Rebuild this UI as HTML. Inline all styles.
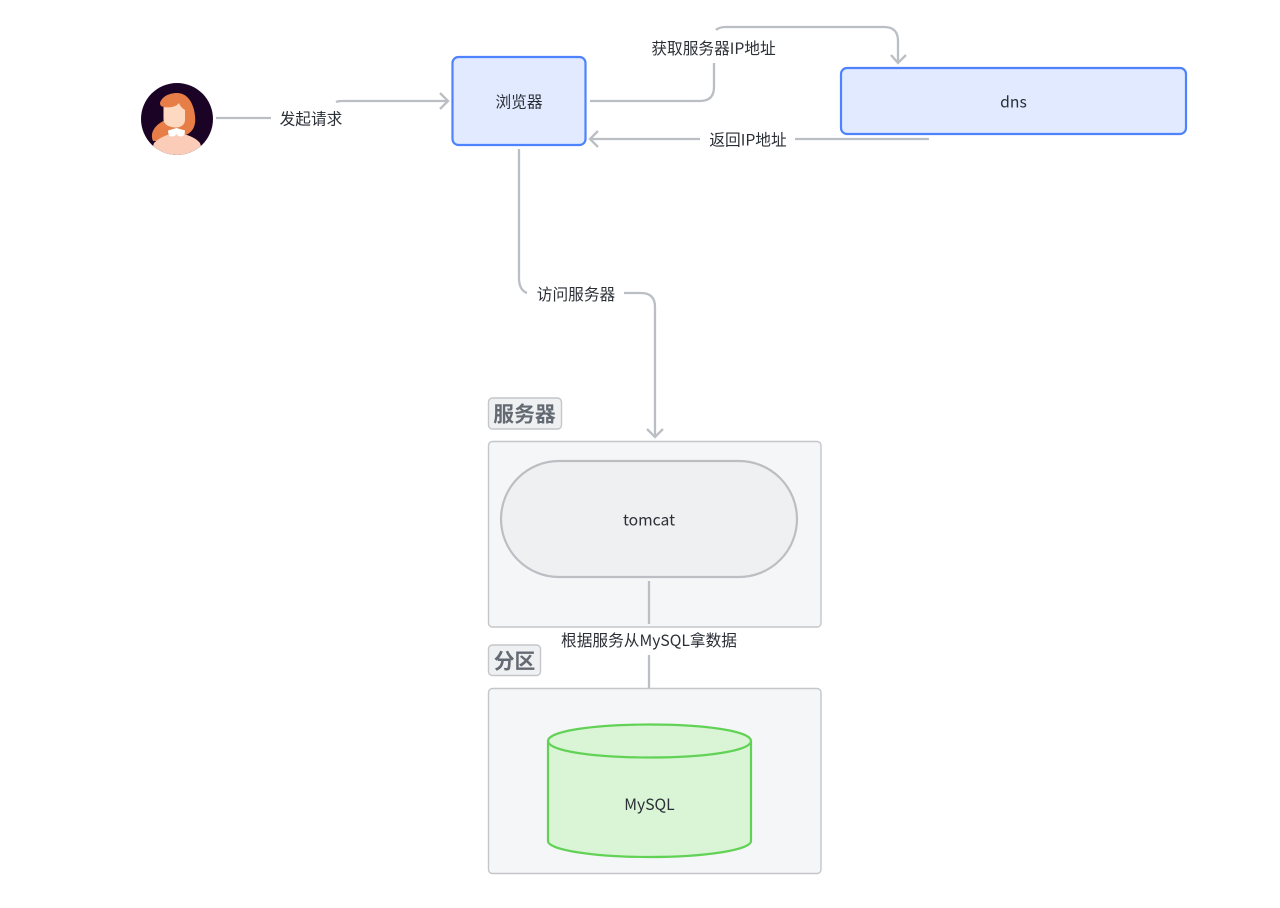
<!DOCTYPE html>
<html>
<head>
<meta charset="utf-8">
<style>
html,body{margin:0;padding:0;background:#fff;width:1280px;height:908px;overflow:hidden}
svg{display:block;filter:blur(0.35px)}
text{font-family:"Noto Sans CJK SC","Liberation Sans",sans-serif;font-size:15.7px;fill:#2b2f36;text-anchor:middle}
.t{font-size:20.8px;font-weight:700;fill:#646a73}
.c{fill:none;stroke:#bbbfc4;stroke-width:2.3}
</style>
</head>
<body>
<svg width="1280" height="908" viewBox="0 0 1280 908" xmlns="http://www.w3.org/2000/svg">
<!-- group boxes -->
<rect x="488.500" y="441.500" width="332.500" height="185.500" rx="4" fill="#f5f6f7" stroke="#c4c6ca" stroke-width="1.400"/>
<rect x="488.500" y="688.500" width="332.500" height="185" rx="4" fill="#f5f6f7" stroke="#c4c6ca" stroke-width="1.400"/>
<rect x="488.500" y="398" width="73" height="31" rx="4" fill="#eff0f1" stroke="#c4c6ca" stroke-width="1.400"/>
<text class="t" x="524.500" y="421.500">服务器</text>
<rect x="488.500" y="645" width="52" height="30.500" rx="4" fill="#eff0f1" stroke="#c4c6ca" stroke-width="1.400"/>
<text class="t" x="514.500" y="668.500">分区</text>

<!-- connectors -->
<path class="c" d="M216 118H271"/>
<path class="c" d="M336 102Q338 101 342 101H447"/>
<path class="c" d="M440 93L448 101L440 109"/>
<path class="c" d="M590 101H700Q714 101 714 87V63"/>
<path class="c" d="M716 30Q719 27 726 27H884Q898 27 898 41V62"/>
<path class="c" d="M891 55L898 63L906 55"/>
<path class="c" d="M929 139H795"/>
<path class="c" d="M700 139H591"/>
<path class="c" d="M598 131L590 139L598 147"/>
<path class="c" d="M519 149V278Q519 290 527 293"/>
<path class="c" d="M624 293H641Q655 293 655 307V437"/>
<path class="c" d="M647 429L655 437L663 429"/>
<path class="c" d="M649 581V624"/>
<path class="c" d="M649 655V688"/>

<!-- avatar -->
<circle cx="177" cy="119" r="36" fill="#1b0325"/>
<clipPath id="av"><circle cx="177" cy="119" r="36"/></clipPath>
<g clip-path="url(#av)">
<path d="M160 103C162 96 170 93 177 93C188 93 194 104 195 116C196 124 194 130 188 134L170 141L153 141C150 134 153 126 165 120L165 107C162 107 160 106 160 103Z" fill="#e77e47"/>
<path d="M154 143C160 137 168 134 177 133C186 134 195 137 200 143L204 156H150Z" fill="#fbcdb8"/>
<path d="M163.500 107C170 108 176 107 179 103C180 106 182 108 185 110V120C185 125 180 128 175 127.500C168 127 163.500 124 163.500 119Z" fill="#fdd9c2"/>
<path d="M168 130.500L176.500 128L176.500 134C174 137.500 170 137 168.500 134.500Z" fill="#fff"/>
<path d="M176.500 128L185 130.500L184.500 134.500C182.500 137 179 137.500 176.500 134Z" fill="#fff"/>
</g>

<!-- nodes -->
<rect x="452.500" y="57" width="133" height="88" rx="6" fill="#e1eaff" stroke="#4e83fd" stroke-width="2.200"/>
<text x="519" y="107.500">浏览器</text>
<rect x="841" y="68" width="345" height="66" rx="6" fill="#e1eaff" stroke="#4e83fd" stroke-width="2.200"/>
<text x="1013.500" y="107.700">dns</text>
<rect x="501" y="461" width="296" height="116" rx="58" fill="#eff0f1" stroke="#bbbfc4" stroke-width="2.200"/>
<text x="649" y="525.500">tomcat</text>
<path d="M548 741C548 731 594 724.500 649.500 724.500C705 724.500 751 731 751 741V841C751 850 705 857 649.500 857C594 857 548 850 548 841Z" fill="#d9f5d6" stroke="#62d256" stroke-width="2.200"/>
<path d="M548 741C548 751 594 757.500 649.500 757.500C705 757.500 751 751 751 741" fill="none" stroke="#62d256" stroke-width="2.200"/>
<text x="649.500" y="810">MySQL</text>

<!-- labels -->
<text x="311" y="124.500">发起请求</text>
<text x="713.500" y="54">获取服务器IP地址</text>
<text x="748" y="145.500">返回IP地址</text>
<text x="576" y="300">访问服务器</text>
<text x="649" y="646">根据服务从MySQL拿数据</text>
</svg>
</body>
</html>
